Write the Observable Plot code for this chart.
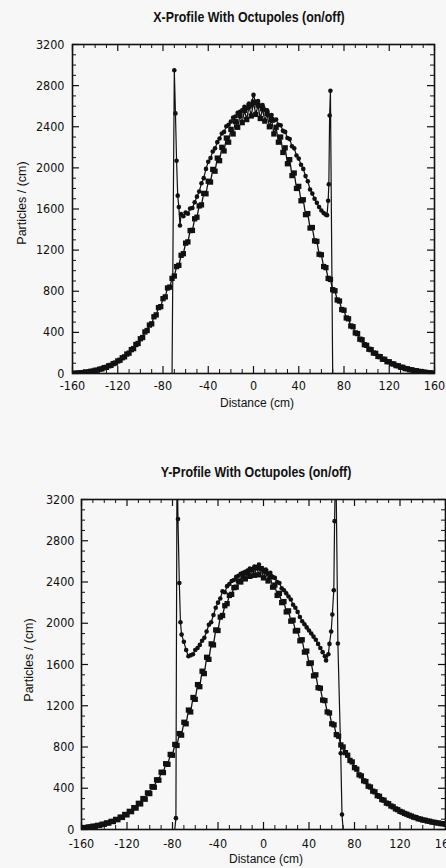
<!DOCTYPE html>
<html>
<head>
<meta charset="utf-8">
<script src="https://cdn.jsdelivr.net/npm/d3@7"></script>
<script src="https://cdn.jsdelivr.net/npm/@observablehq/plot@0.6"></script>
<style>
  html, body { margin: 0; padding: 0; background: #f7f7f7; }
  body { width: 446px; height: 868px; overflow: hidden; position: relative; color: #111;
         font-family: "Liberation Sans Narrow", "Arial Narrow", "DejaVu Sans Condensed", sans-serif; }
  .title { position: absolute; width: 446px; text-align: center; font-weight: bold; font-size: 15.5px; white-space: nowrap;
           font-family: "Liberation Sans", Arial, sans-serif; transform: scaleX(0.8); transform-origin: 50% 50%; }
  .chart { position: absolute; left: 0; }
  .xlab { position: absolute; transform: translate(-50%, -50%); font-family: "Liberation Sans", Arial, sans-serif; font-size: 12px; white-space: nowrap; }
  .ylab { position: absolute; transform: translate(-50%, -50%) rotate(-90deg); font-family: "Liberation Sans", Arial, sans-serif; font-size: 12.5px; white-space: nowrap; }
</style>
</head>
<body>
<div class="title" style="left:26px; top:8px;">X-Profile With Octupoles (on/off)</div>
<div class="title" style="left:33px; top:463px;">Y-Profile With Octupoles (on/off)</div>
<div id="c1" class="chart" style="top:0px;"></div>
<div id="c2" class="chart" style="top:440px;"></div>
<div class="xlab" style="left:257px; top:403px;">Distance (cm)</div>
<div class="xlab" style="left:266px; top:859px;">Distance (cm)</div>
<div class="ylab" style="left:22px; top:203px;">Particles / (cm)</div>
<div class="ylab" style="left:29px; top:660px;">Particles / (cm)</div>
<script>
// ---------- tick values ----------
const xMajor = [-160, -120, -80, -40, 0, 40, 80, 120, 160];
const xMinor = [-150, -140, -130, -110, -100, -90, -70, -60, -50, -30, -20, -10,
                10, 20, 30, 50, 60, 70, 90, 100, 110, 130, 140, 150];
const yMajor = [0, 400, 800, 1200, 1600, 2000, 2400, 2800, 3200];
const yMinor = [100, 200, 300, 500, 600, 700, 900, 1000, 1100, 1300, 1400, 1500,
                1700, 1800, 1900, 2100, 2200, 2300, 2500, 2600, 2700, 2900, 3000, 3100];

// ---------- distance bins (cm) ----------
const xs = [-160,-158,-156,-154,-152,-150,-148,-146,-144,-142,-140,-138,-136,-134,-132,-130,-128,-126,-124,-122,
  -120,-118,-116,-114,-112,-110,-108,-106,-104,-102,-100,-98,-96,-94,-92,-90,-88,-86,-84,-82,
  -80,-78,-76,-74,-72,-70,-68,-66,-64,-62,-60,-58,-56,-54,-52,-50,-48,-46,-44,-42,
  -40,-38,-36,-34,-32,-30,-28,-26,-24,-22,-20,-18,-16,-14,-12,-10,-8,-6,-4,-2,
  0,2,4,6,8,10,12,14,16,18,20,22,24,26,28,30,32,34,36,38,
  40,42,44,46,48,50,52,54,56,58,60,62,64,66,68,70,72,74,76,78,
  80,82,84,86,88,90,92,94,96,98,100,102,104,106,108,110,112,114,116,118,
  120,122,124,126,128,130,132,134,136,138,140,142,144,146,148,150,152,154,156,158,160];

// ---------- X-profile, octupoles off ----------
const xProfileOff = [0,2,4,5,8,9,14,15,21,23,31,32,42,45,57,60,75,79,96,102,122,129,153,162,189,198,232,242,282,292,338,
  350,404,418,471,483,552,570,641,650,728,745,832,840,925,948,1040,1052,1150,1165,1268,1280,1390,1392,1505,1520,1630,1640,1752,1748,1870,1862,1985,1968,2095,2070,2200,2165,2290,2250,2375,2330,2450,2395,2510,2440,2560,2470,2600,2505,
  2640,2520,2610,2480,2575,2455,2530,2400,2470,2330,2395,2250,2300,2150,2195,2040,2080,1925,1950,1800,1820,1680,1690,1545,1555,1415,1420,1290,1285,1160,1155,1040,1030,925,915,815,805,715,705,622,615,540,532,462,455,395,388,334,328,280,274,
  236,232,199,196,166,164,139,138,115,114,95,93,77,75,61,60,48,46,37,36,28,27,20,19,13,12,8,7,4,2];

// ---------- X-profile, octupoles on ----------
const xOnPos = [-160,-72,-70,-69,-68,-67,-66,-65,-64,-62,-60,-58,-56,-54,-52,-50,-48,-46,-44,-42,-40,-38,-36,-34,-32,-30,
  -28,-26,-24,-22,-20,-18,-16,-14,-12,-10,-8,-6,-4,-2,0,2,4,6,8,10,12,14,16,18,20,22,24,26,28,30,32,34,36,38,40,42,44,46,48,
  50,52,54,56,58,60,62,64,65,66,66.6,67.3,68,70,160];
const xProfileOn = [0,0,2950,2530,2070,1730,1620,1440,1550,1530,1565,1555,1605,1610,1665,1720,1770,1850,1900,1990,2060,2095,2160,2190,2250,2285,
  2335,2350,2405,2420,2450,2490,2500,2535,2545,2560,2595,2580,2625,2610,2710,2630,2650,2600,2610,2565,2560,2510,2515,2460,2470,2420,2415,2360,2350,2290,2280,2210,2190,2120,2090,2030,1990,1920,1870,
  1790,1750,1700,1660,1620,1585,1560,1545,1540,1680,1840,2510,2750,0,0];

// ---------- Y-profile, octupoles off ----------
const yProfileOff = [14,19,17,25,24,32,30,40,39,51,50,64,62,79,77,98,95,120,117,146,142,176,173,212,208,254,248,300,294,355,348,416,410,482,478,556,552,638,632,728,720,825,815,930,915,1040,1025,1158,1140,1280,1262,1405,1385,1535,1512,1670,1650,1800,1790,1935,1930,2060,2075,2170,2190,2270,2280,2345,2350,2410,2400,2455,2430,2490,2455,2520,2465,2540,2470,
  2530,2440,2500,2410,2450,2350,2370,2270,2290,2200,2210,2110,2120,2020,2030,1925,1930,1830,1840,1720,1730,1610,1615,1490,1500,1375,1370,1255,1250,1140,1130,1025,1015,920,905,820,800,745,720,670,655,600,585,530,520,472,465,420,412,372,365,328,322,290,284,256,250,228,220,200,192,176,168,156,148,138,130,120,115,104,101,92,90,82,80,72,70,64,63,57,56,52];

// ---------- Y-profile, octupoles on ----------
const yOnPos = [-160,-78,-77,-76,-75.2,-74,-73,-72,-70,-68,-66,-64,-62,-60,-58,-56,-54,-52,-50,-48,-46,-44,-42,-40,-38,-36,-34,-32,-30,
  -28,-26,-24,-22,-20,-18,-16,-14,-12,-10,-8,-6,-4,-2,0,2,4,6,8,10,12,14,16,18,20,22,24,26,28,30,32,34,36,38,40,42,44,46,48,50,52,54,
  55,57,58,59.5,60.5,61.8,62.5,63.5,65.4,67.9,69,70,160];
const yProfileOn = [0,0,110,3700,3010,2390,2010,1890,1820,1740,1680,1690,1700,1740,1760,1790,1830,1860,1920,1985,2010,2080,2150,2200,2240,2310,2300,2360,2380,
  2410,2420,2450,2460,2480,2490,2500,2510,2530,2520,2550,2540,2570,2530,2510,2520,2480,2490,2450,2440,2400,2390,2340,2320,2290,2260,2230,2180,2150,2110,2060,2020,1990,1960,1930,1900,1870,1840,1800,1760,1720,1680,
  1640,1700,1800,1920,2085,2320,2990,3700,1804,740,145,0,0];

const INK = "#111";
const FONT = '"Liberation Sans Narrow", "Arial Narrow", "DejaVu Sans Condensed", sans-serif';

function chart(offY, onX, onY, opts) {
  const off = xs.map((x, i) => ({x, y: offY[i]}));
  const on = onX.map((x, i) => ({x, y: onY[i]}));
  const maj = 7, min = 4;
  return Plot.plot({
    width: 446, height: opts.height,
    marginLeft: opts.ml, marginRight: opts.mr, marginTop: opts.mt, marginBottom: opts.mb,
    style: {background: "transparent", fontFamily: FONT, fontSize: "12.5px", color: INK, overflow: "visible"},
    x: {domain: [-160, 160], ticks: xMajor, tickSize: 0, tickPadding: opts.xPad, tickFormat: d => String(d), label: null},
    y: {domain: [0, 3200], ticks: yMajor, tickSize: 0, tickPadding: opts.yPad, tickFormat: d => String(d), label: null},
    marks: [
      Plot.line(off, {x: "x", y: "y", stroke: INK, strokeWidth: 1.3, clip: true}),
      Plot.dot(off, {x: "x", y: "y", symbol: "square", r: 3, fill: INK, stroke: "none", clip: true}),
      Plot.line(on, {x: "x", y: "y", stroke: INK, strokeWidth: 1.2, clip: true}),
      Plot.dot(on.filter(d => d.y > 0), {x: "x", y: "y", r: 2.3, fill: INK, stroke: "none", clip: true}),
      // inward ticks, bottom & top
      Plot.ruleX(xMajor, {x: d => d, y1: 0, y2: 0, insetTop: -maj, stroke: INK, strokeWidth: 1.2}),
      Plot.ruleX(xMinor, {x: d => d, y1: 0, y2: 0, insetTop: -min, stroke: INK, strokeWidth: 1}),
      Plot.ruleX(xMajor, {x: d => d, y1: 3200, y2: 3200, insetBottom: -maj, stroke: INK, strokeWidth: 1.2}),
      Plot.ruleX(xMinor, {x: d => d, y1: 3200, y2: 3200, insetBottom: -min, stroke: INK, strokeWidth: 1}),
      // inward ticks, left & right
      Plot.ruleY(yMajor, {y: d => d, x1: -160, x2: -160, insetRight: -maj, stroke: INK, strokeWidth: 1.2}),
      Plot.ruleY(yMinor, {y: d => d, x1: -160, x2: -160, insetRight: -min, stroke: INK, strokeWidth: 1}),
      Plot.ruleY(yMajor, {y: d => d, x1: 160, x2: 160, insetLeft: -maj, stroke: INK, strokeWidth: 1.2}),
      Plot.ruleY(yMinor, {y: d => d, x1: 160, x2: 160, insetLeft: -min, stroke: INK, strokeWidth: 1}),
      Plot.frame({stroke: INK, strokeWidth: 1.6})
    ]
  });
}

document.getElementById("c1").appendChild(
  chart(xProfileOff, xOnPos, xProfileOn, {height: 410, ml: 72, mr: 12, mt: 44, mb: 37, yPad: 8, xPad: 8}));
document.getElementById("c2").appendChild(
  chart(yProfileOff, yOnPos, yProfileOn, {height: 428, ml: 81, mr: 1, mt: 59, mb: 39, yPad: 7, xPad: 10}));
</script>
</body>
</html>
